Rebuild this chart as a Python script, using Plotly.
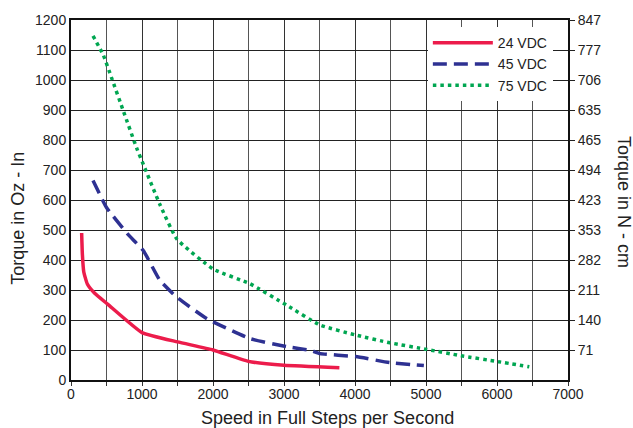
import plotly.graph_objects as go

# ---- data ----
speed_24 = [150, 160, 180, 230, 330, 520, 1000, 1500, 2000, 2500, 3000, 3780]
torque_24 = [490, 420, 360, 320, 290, 252, 158, 127, 100, 62, 49, 41]

speed_45 = [310, 500, 800, 1020, 1250, 1490, 1910, 2520, 3040, 3370, 3510, 4010, 4490, 4970]
torque_45 = [665, 575, 486, 431, 333, 276, 205, 138, 111, 99, 88, 78, 58, 48]

speed_75 = [310, 455, 575, 740, 925, 1020, 1250, 1490, 2000, 2520, 3040, 3510, 4010, 4490, 5010, 5490, 6020, 6455]
torque_75 = [1147, 1083, 1005, 895, 773, 718, 586, 470, 370, 321, 249, 183, 150, 124, 102, 81, 61, 44]

left_ticks = [0, 100, 200, 300, 400, 500, 600, 700, 800, 900, 1000, 1100, 1200]
right_tickvals = [100, 200, 300, 400, 500, 600, 700, 800, 900, 1000, 1100, 1200]
right_ticktext = ["71", "140", "211", "282", "353", "423", "494", "465", "635", "706", "777", "847"]
x_ticks = [0, 1000, 2000, 3000, 4000, 5000, 6000, 7000]

FONT = "Liberation Sans, Arial, sans-serif"
TXT = "#222222"

fig = go.Figure()
fig.add_trace(go.Scatter(x=speed_24, y=torque_24, mode="lines", name="24 VDC",
                         line=dict(color="#ec1c4b", width=3.5, shape="spline", smoothing=0.4)))
fig.add_trace(go.Scatter(x=speed_45, y=torque_45, mode="lines", name="45 VDC",
                         line=dict(color="#2e3192", width=3.5, dash="14px,7px", shape="spline", smoothing=0.4)))
fig.add_trace(go.Scatter(x=speed_75, y=torque_75, mode="lines", name="75 VDC",
                         line=dict(color="#00a651", width=3.5, dash="3.5px,4px", shape="spline", smoothing=0.4)))
# invisible trace to activate right axis
fig.add_trace(go.Scatter(x=[0], y=[0], yaxis="y2", mode="markers",
                         marker=dict(opacity=0), showlegend=False, hoverinfo="skip"))

fig.update_layout(
    width=633, height=428,
    margin=dict(l=71, r=65, t=18, b=48),
    paper_bgcolor="white", plot_bgcolor="white",
    font=dict(family=FONT, size=14, color=TXT),
    showlegend=True,
    legend=dict(x=0.718, y=0.98, xanchor="left", yanchor="top",
                bgcolor="white", borderwidth=0, font=dict(size=14, color=TXT),
                tracegroupgap=0, itemwidth=60),
    xaxis=dict(range=[0, 7000], tickvals=x_ticks, showgrid=True, gridcolor="#333333", gridwidth=1,
               showline=True, linecolor="#111111", linewidth=2, mirror=True,
               ticks="", zeroline=False, tickfont=dict(size=14, color=TXT),
               minor=dict(dtick=500, showgrid=True, gridcolor="#555555", gridwidth=1,
                          ticks="outside", ticklen=4, tickcolor="#333333")),
    yaxis=dict(range=[0, 1200], tickvals=left_ticks, showgrid=True, gridcolor="#222222", gridwidth=1,
               showline=True, linecolor="#111111", linewidth=2, mirror=True,
               ticks="", zeroline=False, tickfont=dict(size=14, color=TXT)),
    yaxis2=dict(range=[0, 1200], overlaying="y", side="right", tickvals=right_tickvals,
                ticktext=right_ticktext, showgrid=False, ticks="outside", ticklen=6,
                tickcolor="#222222", showline=False, zeroline=False,
                tickfont=dict(size=14, color=TXT)),
    annotations=[
        dict(text="Speed in Full Steps per Second", x=0.5, y=-0.105, xref="paper", yref="paper",
             showarrow=False, xanchor="center", yanchor="middle", font=dict(size=18, color=TXT),
             xshift=8),
        dict(text="Torque in Oz - In", x=-0.107, y=0.45, xref="paper", yref="paper", showarrow=False,
             textangle=-90, font=dict(size=18, color=TXT), xanchor="center", yanchor="middle"),
        dict(text="Torque in N - cm", x=1.0, y=0.5, xref="paper", yref="paper", showarrow=False,
             textangle=90, font=dict(size=18, color=TXT), xanchor="center", yanchor="middle",
             xshift=56, yshift=-2),
    ],
)

fig.write_html("out.html", config={"displayModeBar": False},
               post_script="document.body.style.margin='0';document.body.style.padding='0';")
